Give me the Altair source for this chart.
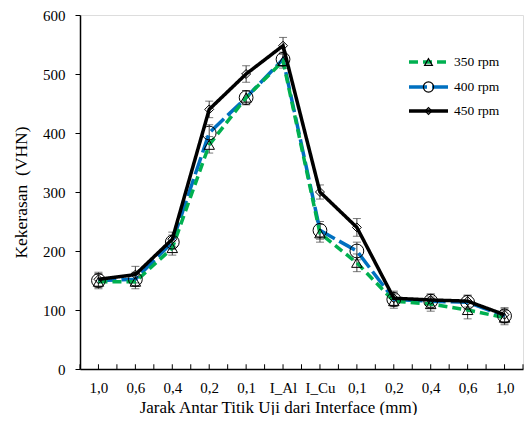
import altair as alt
import pandas as pd

cats = ["1,0", "0,6", "0,4", "0,2", "0,1", "I_Al", "I_Cu", "0,1", "0,2", "0,4", "0,6", "1,0"]
v350 = [148, 148, 205, 380, 460, 522, 230, 180, 115, 110, 100, 87]
v400 = [150, 152, 215, 400, 460, 525, 235, 200, 118, 115, 113, 90]
v450 = [152, 160, 220, 440, 500, 548, 300, 240, 120, 117, 115, 92]
e350 = [12, 12, 12, 14, 12, 12, 15, 15, 12, 12, 15, 12]
e400 = [12, 12, 12, 14, 12, 12, 15, 15, 12, 12, 12, 12]
e450 = [12, 14, 12, 14, 14, 14, 12, 15, 12, 10, 10, 12]
series_names = ["350 rpm", "400 rpm", "450 rpm"]
y_ticks = [0, 100, 200, 300, 400, 500, 600]

FONT = "Liberation Serif, Times New Roman, serif"

label_expr = "[" + ",".join("'%s'" % c for c in cats) + "][datum.value]"

x_scale = alt.Scale(domain=[-0.5, len(cats) - 0.5], nice=False, zero=False)
y_scale = alt.Scale(domain=[0, 600], nice=False)

x_axis = alt.Axis(values=list(range(len(cats))), labelExpr=label_expr, tickSize=0,
                  grid=False, domainColor="black", domainWidth=1.5, labelFont=FONT,
                  labelFontSize=15, labelColor="black", labelPadding=11,
                  title="Jarak Antar Titik Uji dari Interface (mm)", titleFont=FONT,
                  titleFontSize=17, titleFontWeight="normal", titleColor="black",
                  titlePadding=4, titleX=198, titleAlign="center")
y_axis = alt.Axis(values=y_ticks, grid=False, domainColor="black", domainWidth=1.5,
                  tickColor="black", tickSize=5, labelFont=FONT, labelFontSize=15,
                  labelColor="black", labelPadding=10, title="Kekerasan\u00a0\u00a0(VHN)",
                  titleFont=FONT, titleFontSize=17.5, titleFontWeight="normal",
                  titleColor="black", titlePadding=12)


def make_df(vals, errs, name):
    return pd.DataFrame({
        "idx": list(range(len(cats))),
        "val": vals,
        "lo": [v - e for v, e in zip(vals, errs)],
        "hi": [v + e for v, e in zip(vals, errs)],
        "series": name,
    })


d350 = make_df(v350, e350, series_names[0])
d400 = make_df(v400, e400, series_names[1])
d450 = make_df(v450, e450, series_names[2])

styles = {
    series_names[0]: dict(color="#00B050", dash=[9, 5], shape="triangle-up", size=110),
    series_names[1]: dict(color="#0070C0", dash=[18, 5], shape="circle", size=190),
    series_names[2]: dict(color="black", dash=[1, 0], shape="diamond", size=80),
}

base_axes = alt.Chart(d450).mark_line(opacity=0).encode(
    x=alt.X("idx:Q", scale=x_scale, axis=x_axis),
    y=alt.Y("val:Q", scale=y_scale, axis=y_axis),
)


def err_layers(df):
    b = alt.Chart(df)
    r = b.mark_rule(color="#404040", strokeWidth=1).encode(
        x=alt.X("idx:Q", scale=x_scale), y=alt.Y("lo:Q", scale=y_scale), y2="hi:Q")
    t1 = b.mark_tick(color="#404040", orient="horizontal", size=8, thickness=1).encode(
        x=alt.X("idx:Q", scale=x_scale), y=alt.Y("lo:Q", scale=y_scale))
    t2 = b.mark_tick(color="#404040", orient="horizontal", size=8, thickness=1).encode(
        x=alt.X("idx:Q", scale=x_scale), y=alt.Y("hi:Q", scale=y_scale))
    return [r, t1, t2]


def line_layer(df, name):
    s = styles[name]
    return alt.Chart(df).mark_line(color=s["color"], strokeWidth=3.5, strokeDash=s["dash"]).encode(
        x=alt.X("idx:Q", scale=x_scale), y=alt.Y("val:Q", scale=y_scale))


def point_layer(df, name):
    s = styles[name]
    return alt.Chart(df).mark_point(shape=s["shape"], size=s["size"], filled=False,
                                    color="black", strokeWidth=1, opacity=1).encode(
        x=alt.X("idx:Q", scale=x_scale), y=alt.Y("val:Q", scale=y_scale))


# inner x ticks at category centres and band boundaries
tick_pos = [i / 2 - 0.5 for i in range(2 * len(cats) + 1)]
ticks_df = pd.DataFrame({"t": tick_pos, "y0": 0, "y1": 8})
xticks = alt.Chart(ticks_df).mark_rule(color="black", strokeWidth=1).encode(
    x=alt.X("t:Q", scale=x_scale), y=alt.Y("y0:Q", scale=y_scale), y2="y1:Q")

# custom legend
legend_layers = []
leg_y = [47, 72, 96]
for name, ly in zip(series_names, leg_y):
    s = styles[name]
    ldf = pd.DataFrame({"series": [name]})
    c = alt.Chart(ldf)
    legend_layers.append(c.mark_rule(color=s["color"], strokeWidth=3.5, strokeDash=s["dash"]).encode(
        x=alt.value(329), x2=alt.value(368), y=alt.value(ly)))
    legend_layers.append(c.mark_point(shape=s["shape"], size=s["size"] * 0.55, filled=False,
                                      color="black", strokeWidth=1.2, opacity=1).encode(
        x=alt.value(348.5), y=alt.value(ly)))
    legend_layers.append(c.mark_text(align="left", baseline="middle", font=FONT, fontSize=13.5,
                                     color="black").encode(
        x=alt.value(374), y=alt.value(ly), text="series:N"))

layers = [base_axes, xticks]
for df in (d350, d400, d450):
    layers += err_layers(df)
layers += [line_layer(d400, series_names[1]), line_layer(d350, series_names[0]),
           line_layer(d450, series_names[2])]
layers += [point_layer(d350, series_names[0]), point_layer(d400, series_names[1]),
           point_layer(d450, series_names[2])]
layers += legend_layers

chart = alt.layer(*layers).properties(
    width=516, height=407,
    autosize=alt.AutoSizeParams(type="fit", contains="padding"),
    padding={"left": 4, "top": 0, "right": 0, "bottom": 0},
).configure_view(stroke=None).configure(background="white")

chart.save("out.html", embed_options={"renderer": "svg", "actions": False})
